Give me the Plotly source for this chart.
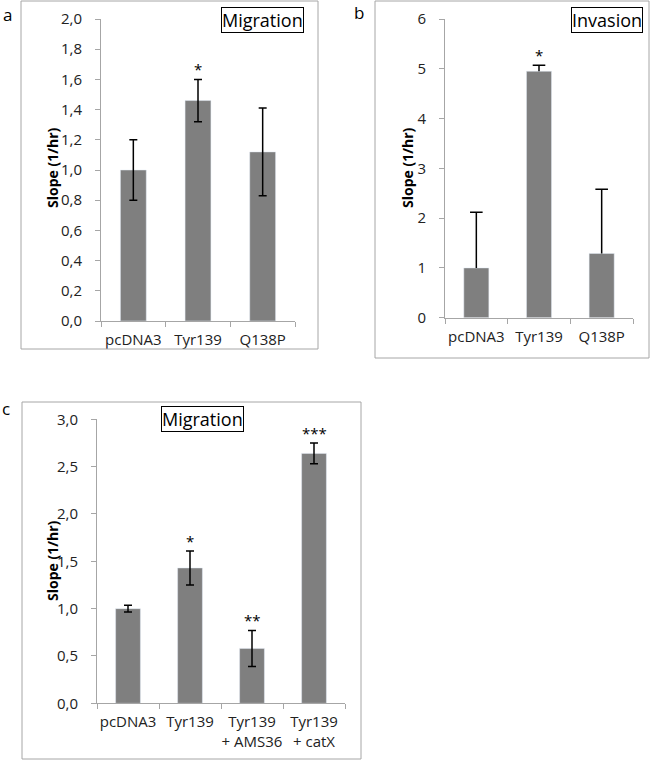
import plotly.graph_objects as go

W, H = 652, 761

# ---- data ----
cats_a = ["pcDNA3", "Tyr139", "Q138P"]
vals_a = [1.00, 1.46, 1.12]
err_a = [0.20, 0.14, 0.29]
stars_a = ["", "*", ""]

cats_b = ["pcDNA3", "Tyr139", "Q138P"]
vals_b = [1.00, 4.95, 1.29]
err_b_plus = [1.12, 0.12, 1.29]
stars_b = ["", "*", ""]

cats_c = ["pcDNA3", "Tyr139", "Tyr139<br>+ AMS36", "Tyr139<br>+ catX"]
vals_c = [1.00, 1.43, 0.58, 2.64]
err_c = [0.035, 0.18, 0.19, 0.11]
stars_c = ["", "*", "**", "***"]

yticks_a = [0.0, 0.2, 0.4, 0.6, 0.8, 1.0, 1.2, 1.4, 1.6, 1.8, 2.0]
yticks_b = [0, 1, 2, 3, 4, 5, 6]
yticks_c = [0.0, 0.5, 1.0, 1.5, 2.0, 2.5, 3.0]

BAR = "#7f7f7f"
AXC = "#a6a6a6"
FONT = "Open Sans"


def px(x):
    return x / W


def py(y):
    return 1 - y / H


fig = go.Figure()

fig.add_trace(go.Bar(x=cats_a, y=vals_a, width=0.4, marker_color=BAR,
                     error_y=dict(type="data", array=err_a, color="black", thickness=1.5, width=4),
                     xaxis="x", yaxis="y", showlegend=False))
fig.add_trace(go.Bar(x=cats_b, y=vals_b, width=0.4, marker_color=BAR,
                     xaxis="x2", yaxis="y2", showlegend=False))
# plus-only error bars for panel b: stem + cap
stem_x, stem_y = [], []
for c, v, e in zip(cats_b, vals_b, err_b_plus):
    stem_x += [c, c, None]
    stem_y += [v, v + e, None]
fig.add_trace(go.Scatter(x=stem_x, y=stem_y, mode="lines", line=dict(color="black", width=1.5),
                         xaxis="x2", yaxis="y2", showlegend=False, hoverinfo="skip"))
fig.add_trace(go.Scatter(x=cats_b, y=[v + e for v, e in zip(vals_b, err_b_plus)], mode="markers",
                         marker=dict(symbol="line-ew", size=9, line=dict(color="black", width=1.5)),
                         xaxis="x2", yaxis="y2", showlegend=False))
fig.add_trace(go.Bar(x=cats_c, y=vals_c, width=0.4, marker_color=BAR,
                     error_y=dict(type="data", array=err_c, color="black", thickness=1.5, width=4),
                     xaxis="x3", yaxis="y3", showlegend=False))

xax = dict(type="category", showline=True, linecolor=AXC, linewidth=1, ticks="outside",
           tickson="boundaries", ticklen=5, tickcolor=AXC, showgrid=False, zeroline=False,
           tickangle=0, automargin=False, ticklabelstandoff=5,
           tickfont=dict(family=FONT, size=15, color="#222"), fixedrange=True)
yax = dict(showline=True, linecolor=AXC, linewidth=1, ticks="outside", ticklen=5, tickcolor=AXC,
           showgrid=False, zeroline=False, ticklabelstandoff=10, automargin=False,
           tickfont=dict(family=FONT, size=15, color="#222"))

fig.update_layout(
    width=W, height=H, margin=dict(l=0, r=0, t=0, b=0, autoexpand=False),
    paper_bgcolor="white", plot_bgcolor="white", separators=", ",
    xaxis=dict(xax, domain=[px(101), px(295)], anchor="y"),
    yaxis=dict(yax, domain=[py(321), py(19)], range=[0, 2], tickvals=yticks_a,
               tickformat=".1f", anchor="x"),
    xaxis2=dict(xax, domain=[px(445), px(633)], anchor="y2"),
    yaxis2=dict(yax, domain=[py(317.7), py(19)], range=[0, 6], tickvals=yticks_b,
                tickformat="d", anchor="x2"),
    xaxis3=dict(xax, domain=[px(97), px(345)], anchor="y3"),
    yaxis3=dict(yax, domain=[py(703.3), py(419.3)], range=[0, 3], tickvals=yticks_c,
                tickformat=".1f", anchor="x3"),
)

# frames
for (x0, y0, x1, y1) in [(21, 1, 318, 349), (375, 1, 649, 358), (22, 402, 361, 759)]:
    fig.add_shape(type="rect", xref="paper", yref="paper", x0=px(x0), x1=px(x1),
                  y0=py(y1), y1=py(y0), line=dict(color=AXC, width=1))

ann = []
# panel letters
for t, x, y in [("a", 7, 14), ("b", 359, 13), ("c", 6, 409)]:
    ann.append(dict(text=t, x=px(x), y=py(y), xref="paper", yref="paper", showarrow=False,
                    xanchor="center", yanchor="middle",
                    font=dict(family=FONT, size=17, color="black")))
# y titles
for x, y in [(52, 168), (407, 167), (52, 561)]:
    ann.append(dict(text="<b>Slope (1/hr)</b>", x=px(x), y=py(y), xref="paper", yref="paper",
                    showarrow=False, textangle=-90, xanchor="center", yanchor="middle",
                    font=dict(family=FONT, size=14, color="black")))
# boxed titles
for t, x, y in [("Migration", 262, 19.5), ("Invasion", 607, 19.5), ("Migration", 202, 418.5)]:
    ann.append(dict(text=t, x=px(x), y=py(y), xref="paper", yref="paper", showarrow=False,
                    xanchor="center", yanchor="middle",
                    font=dict(family=FONT, size=18, color="black"), bordercolor="black",
                    borderwidth=1, borderpad=0, bgcolor="white"))
# significance stars
for cats, vals, errs, stars, xr, yr in [
    (cats_a, vals_a, err_a, stars_a, "x", "y"),
    (cats_b, vals_b, err_b_plus, stars_b, "x2", "y2"),
    (cats_c, vals_c, err_c, stars_c, "x3", "y3"),
]:
    for c, v, e, s in zip(cats, vals, errs, stars):
        if s:
            ann.append(dict(text=s, x=c, y=v + e, xref=xr, yref=yr, showarrow=False,
                            xanchor="center", yanchor="bottom", yshift=-2,
                            font=dict(family=FONT, size=15, color="black")))
fig.update_layout(annotations=ann)

fig.write_html("out.html", config={"displayModeBar": False},
               post_script="document.body.style.margin='0px';")
